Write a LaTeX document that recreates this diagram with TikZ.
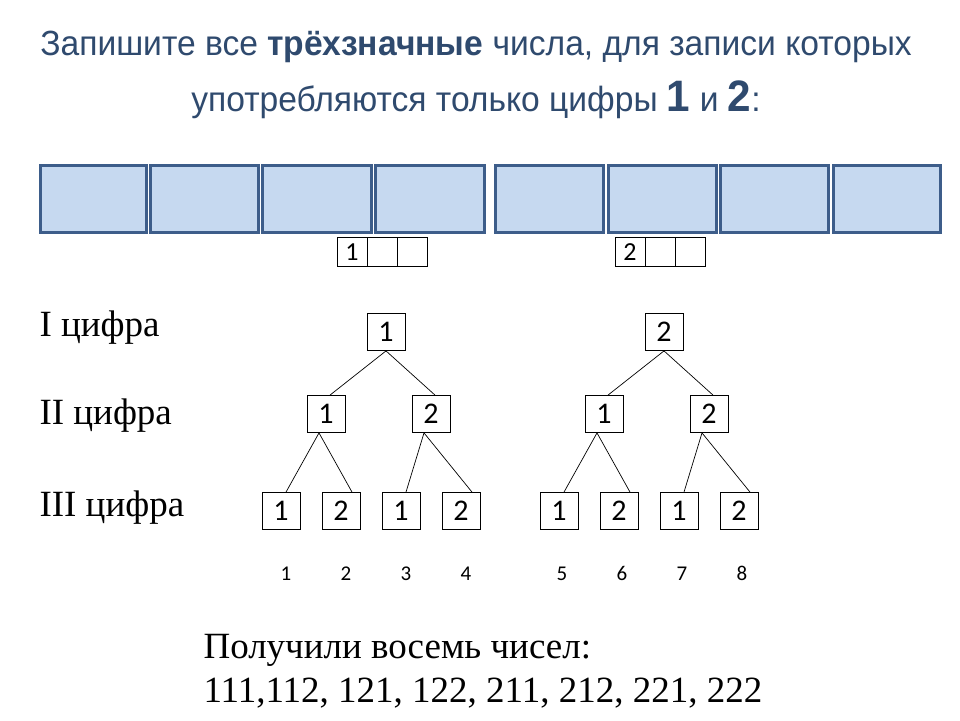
\documentclass[tikz,border=0pt]{standalone}
\usepackage{fontspec}
\setmainfont{Liberation Serif}
\newfontfamily\titlefont[FakeStretch=0.96]{Liberation Sans}
\newfontfamily\digfont{Carlito}
\definecolor{titleblue}{HTML}{2F4A6E}
\definecolor{boxfill}{HTML}{C6D9F0}
\definecolor{boxline}{HTML}{3D5D8A}
\begin{document}
\begin{tikzpicture}[x=1pt,y=-1pt,
  bluebox/.style={draw=boxline,line width=3pt,fill=boxfill},
  dig/.style={draw,line width=0.8pt,minimum width=38pt,minimum height=37pt,inner sep=0pt,font=\digfont\fontsize{30}{30}\selectfont},
  cellbox/.style={draw,line width=0.8pt,minimum width=30pt,minimum height=29pt,inner sep=0pt,font=\digfont\fontsize{26}{26}\selectfont},
  lbl/.style={anchor=west,font=\fontsize{37}{37}\selectfont},
  num/.style={anchor=base,inner sep=0pt,font=\digfont\fontsize{21}{21}\selectfont},
  ttl/.style={text=titleblue,font=\titlefont\fontsize{35}{35}\selectfont},
  edge/.style={line width=0.7pt}]
\useasboundingbox (0,0) rectangle (960,720);
\fill[white] (0,0) rectangle (960,720);
\node[ttl] (t1) at (476,47) {Запишите все \textbf{трёхзначные} числа, для записи которых};
\node[ttl] (t2) at (476,100) {употребляются только цифры \textbf{\fontsize{44}{44}\selectfont 1} и \textbf{\fontsize{44}{44}\selectfont 2}:};
% blue boxes
\foreach \a/\b [count=\i] in {40/146,150/258,262/371,375/484,495/603,608/716,720/828,833/940}
  \draw[bluebox] (\a,165) rectangle (\b,232);
% small cell boxes
\node[cellbox] (c1) at (352,252) {1};
\node[cellbox] (c2) at (382,252) {};
\node[cellbox] (c3) at (412,252) {};
\node[cellbox] (d1) at (630,252) {2};
\node[cellbox] (d2) at (660,252) {};
\node[cellbox] (d3) at (690,252) {};
% labels
\node[lbl] (l1) at (36,328) {I цифра};
\node[lbl] (l2) at (36,416) {II цифра};
\node[lbl] (l3) at (36,508) {III цифра};
% tree
\node[dig] (r1) at (386,332) {1};
\node[dig] (r2) at (664,332) {2};
\node[dig] (a1) at (326,414) {1};
\node[dig] (a2) at (431,414) {2};
\node[dig] (a3) at (604,414) {1};
\node[dig] (a4) at (709,414) {2};
\foreach \x/\v [count=\i] in {281/1,341/2,401/1,461/2,559/1,619/2,679/1,739/2}
  \node[dig] (b\i) at (\x,511) {\v};
\foreach \x [count=\i] in {286,346,406,466,562,622,682,742}
  \node[num] (n\i) at (\x,580) {\i};
\draw[edge] (r1.south) -- ([xshift=4pt]a1.north);
\draw[edge] (r1.south) -- ([xshift=4pt]a2.north);
\draw[edge] (r2.south) -- ([xshift=4pt]a3.north);
\draw[edge] (r2.south) -- ([xshift=4pt]a4.north);
\draw[edge] ([xshift=-7pt]a1.south) -- ([xshift=5pt]b1.north);
\draw[edge] ([xshift=-7pt]a1.south) -- ([xshift=11pt]b2.north);
\draw[edge] ([xshift=-7pt]a2.south) -- ([xshift=5pt]b3.north);
\draw[edge] ([xshift=-7pt]a2.south) -- ([xshift=11pt]b4.north);
\draw[edge] ([xshift=-7pt]a3.south) -- ([xshift=5pt]b5.north);
\draw[edge] ([xshift=-7pt]a3.south) -- ([xshift=11pt]b6.north);
\draw[edge] ([xshift=-7pt]a4.south) -- ([xshift=5pt]b7.north);
\draw[edge] ([xshift=-7pt]a4.south) -- ([xshift=11pt]b8.north);
% bottom text
\node[anchor=west,font=\fontsize{37}{37}\selectfont] (p1) at (200,650) {Получили восемь чисел:};
\node[anchor=west,font=\fontsize{37}{37}\selectfont] (p2) at (200,693) {111,112, 121, 122, 211, 212, 221, 222};
\end{tikzpicture}
\end{document}
